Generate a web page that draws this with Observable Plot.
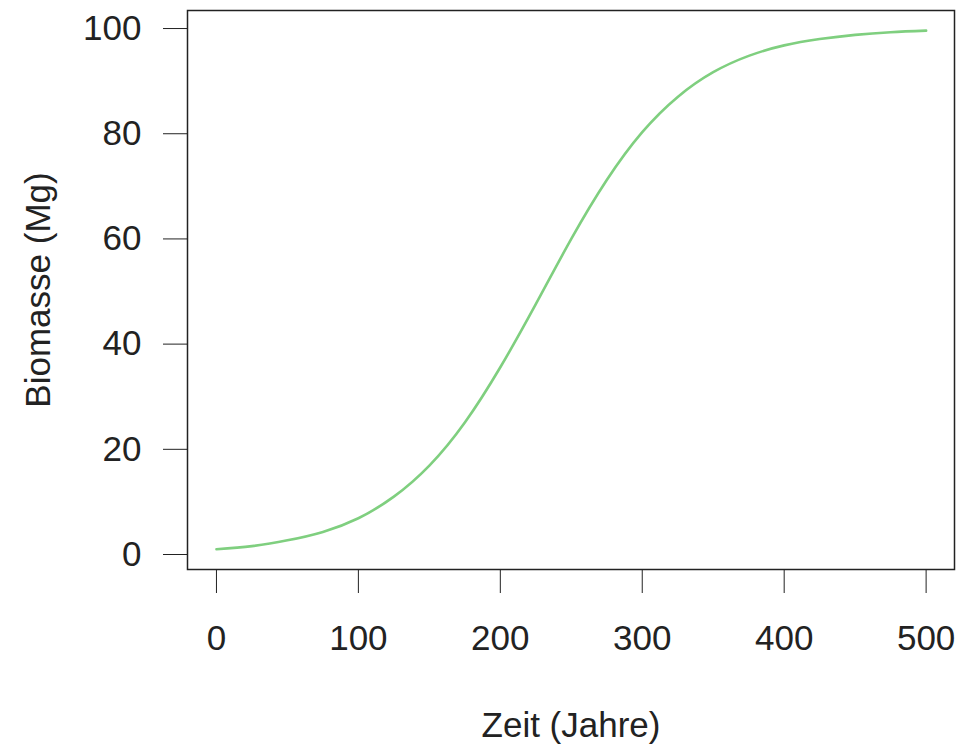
<!DOCTYPE html>
<html>
<head>
<meta charset="utf-8">
<script src="https://cdn.jsdelivr.net/npm/d3@7"></script>
<script src="https://cdn.jsdelivr.net/npm/@observablehq/plot@0.6"></script>
<style>
  html, body { margin: 0; padding: 0; background: #fff; }
</style>
</head>
<body>
<div id="chart"></div>
<script>
// Values (logistic-shaped growth curve)
const years   = [0, 25, 50, 75, 100, 125, 150, 175, 200, 225, 250, 275, 300, 325, 350, 375, 400, 425, 450, 475, 500];
const biomass = [1.0, 1.6, 2.7, 4.3, 6.9, 11.0, 16.9, 25.1, 35.6, 47.6, 60.0, 71.2, 80.3, 87.0, 91.7, 94.8, 96.8, 98.0, 98.8, 99.3, 99.6];
const xTicks  = [0, 100, 200, 300, 400, 500];
const yTicks  = [0, 20, 40, 60, 80, 100];
const xTitle  = "Zeit (Jahre)";
const yTitle  = "Biomasse (Mg)";

const data = years.map((t, i) => ({t, b: biomass[i]}));

const chart = Plot.plot({
  width: 975,
  height: 747,
  marginLeft: 187,
  marginRight: 21,
  marginTop: 10,
  marginBottom: 178,
  style: {fontFamily: "'Liberation Sans', Arial, sans-serif", fontSize: "35px", color: "#222", background: "#fff"},
  x: {domain: [-20.4, 520], ticks: xTicks, tickSize: 24, tickPadding: 32, label: xTitle, labelAnchor: "center", labelOffset: 167, labelArrow: "none"},
  y: {domain: [-2.85, 103.43], ticks: yTicks, tickSize: 24, tickPadding: 22, label: yTitle, labelAnchor: "center", labelOffset: 162, labelArrow: "none"},
  marks: [
    Plot.line(data, {x: "t", y: "b", stroke: "#7fcf7f", strokeWidth: 2.6, curve: "natural"}),
    Plot.frame({stroke: "#222", strokeWidth: 1.5})
  ]
});
document.getElementById("chart").appendChild(chart);
</script>
</body>
</html>
